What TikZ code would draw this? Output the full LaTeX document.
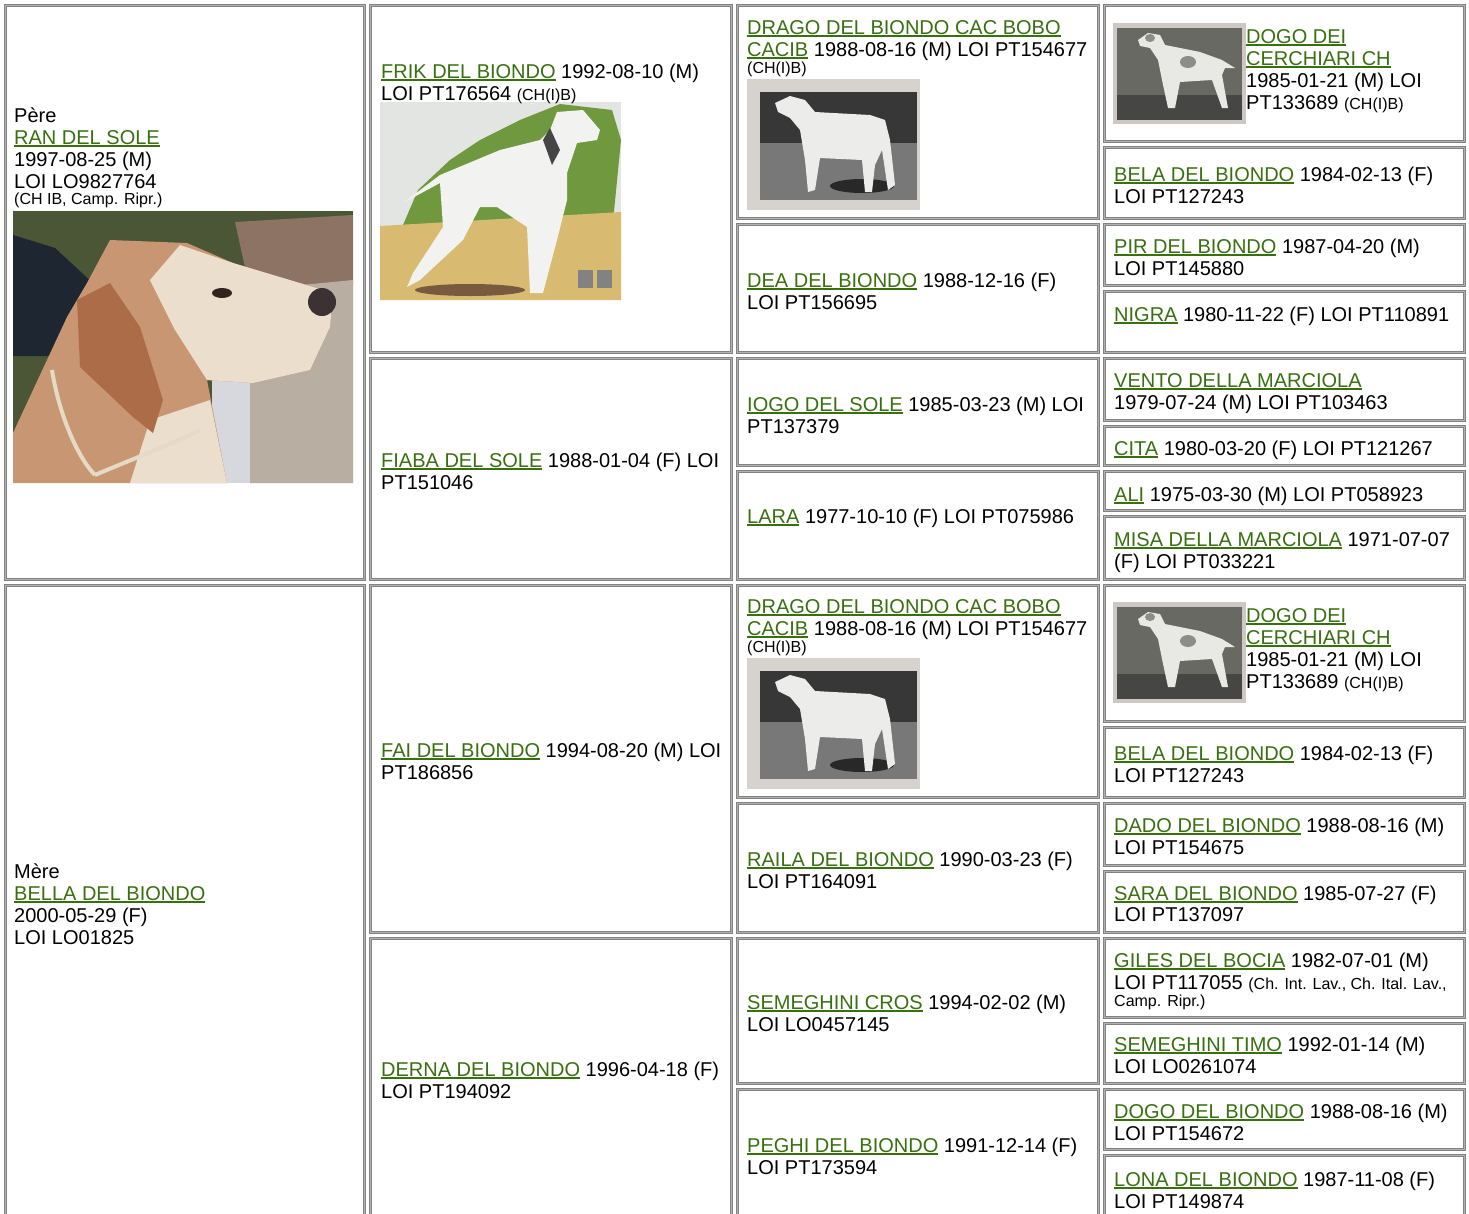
\documentclass[tikz,border=0pt]{standalone}
\usepackage{fontspec}
\setmainfont{Liberation Sans}
\definecolor{linkgreen}{RGB}{56,112,16}
\definecolor{bordergray}{RGB}{130,130,130}
\definecolor{borderlight}{RGB}{178,178,178}
\newsavebox\lnkbox
\newcommand\lnk[1]{\sbox\lnkbox{#1}\rlap{\color{linkgreen}\rule[-2.6pt]{\wd\lnkbox}{1.6pt}}\textcolor{linkgreen}{#1}}
\newcommand\sm{\fontsize{16}{18}\selectfont}
\tikzset{
  txt/.style={inner sep=0pt, anchor=base west, font=\fontsize{20}{22}\selectfont, text=black},
  cellbox/.style={draw=bordergray, line width=1pt, double=borderlight, double distance=1pt}
}
\newcommand\txtline[4]{\node[txt] (#1) at (#2,#3) {#4};}
\newcommand\cellrect[4]{\draw[cellbox] ({#1+1.5},{#2+1.5}) rectangle ({#3-1.5},{#4-1.5});}
% black and white show photo (drago)
\newcommand\photoBW{%
  \begin{scope}
    \clip (747,79) rectangle (920,210);
    \fill[fill={rgb,255:red,214;green,210;blue,205}] (747,79) rectangle (920,210);
    \fill[fill={rgb,255:red,55;green,55;blue,55}] (760,92) rectangle (917,143);
    \fill[fill={rgb,255:red,120;green,120;blue,120}] (760,143) rectangle (917,200);
    \fill[fill={rgb,255:red,40;green,40;blue,40}] (862,186) ellipse [x radius=32, y radius=7];
    \fill[fill={rgb,255:red,236;green,236;blue,234}] (775,103) -- (790,96) -- (805,100) -- (815,112) -- (870,115) -- (885,120) -- (890,140) -- (895,185) -- (888,190) -- (882,150) -- (875,165) -- (872,192) -- (865,192) -- (862,160) -- (820,158) -- (815,190) -- (808,192) -- (805,160) -- (800,130) -- (790,118) -- (778,112) -- cycle;
  \end{scope}}
% black and white field photo (dogo)
\newcommand\photoField{%
  \begin{scope}
    \clip (1113,23) rectangle (1246,124);
    \fill[fill={rgb,255:red,205;green,200;blue,195}] (1113,23) rectangle (1246,124);
    \fill[fill={rgb,255:red,105;green,105;blue,100}] (1117,28) rectangle (1242,120);
    \fill[fill={rgb,255:red,70;green,70;blue,68}] (1117,95) rectangle (1242,120);
    \fill[fill={rgb,255:red,232;green,232;blue,228}] (1138,40) -- (1148,33) -- (1160,35) -- (1165,45) -- (1200,52) -- (1222,60) -- (1235,68) -- (1225,68) -- (1222,75) -- (1228,108) -- (1222,108) -- (1212,80) -- (1180,82) -- (1175,108) -- (1168,108) -- (1162,80) -- (1158,60) -- (1150,48) -- (1140,46) -- cycle;
    \fill[fill={rgb,255:red,140;green,140;blue,136}] (1188,62) ellipse [x radius=8, y radius=6];
    \fill[fill={rgb,255:red,140;green,140;blue,136}] (1150,38) ellipse [x radius=5, y radius=4];
  \end{scope}}
\begin{document}
\begin{tikzpicture}[x=1pt,y=-1pt]
\useasboundingbox (0,0) rectangle (1469,1213);
\clip (0,0) rectangle (1469,1213);
\fill[white] (0,0) rectangle (1469,1213);

% ---------- cell borders ----------
% column 1
\cellrect{4}{4}{366}{581}
\cellrect{4}{584}{366}{1230}
% column 2
\cellrect{369}{4}{733}{354}
\cellrect{369}{357}{733}{581}
\cellrect{369}{584}{733}{934}
\cellrect{369}{937}{733}{1230}
% column 3
\cellrect{736}{4}{1100}{220}
\cellrect{736}{223}{1100}{354}
\cellrect{736}{357}{1100}{467}
\cellrect{736}{470}{1100}{581}
\cellrect{736}{584}{1100}{799}
\cellrect{736}{802}{1100}{934}
\cellrect{736}{937}{1100}{1085}
\cellrect{736}{1088}{1100}{1230}
% column 4
\cellrect{1103}{4}{1466}{143}
\cellrect{1103}{146}{1466}{220}
\cellrect{1103}{223}{1466}{287}
\cellrect{1103}{290}{1466}{354}
\cellrect{1103}{357}{1466}{422}
\cellrect{1103}{425}{1466}{467}
\cellrect{1103}{470}{1466}{512}
\cellrect{1103}{515}{1466}{581}
\cellrect{1103}{584}{1466}{723}
\cellrect{1103}{726}{1466}{799}
\cellrect{1103}{802}{1466}{867}
\cellrect{1103}{870}{1466}{934}
\cellrect{1103}{937}{1466}{1019}
\cellrect{1103}{1022}{1466}{1085}
\cellrect{1103}{1088}{1466}{1151}
\cellrect{1103}{1154}{1466}{1230}

% ---------- photo: head of RAN DEL SOLE ----------
\begin{scope}
  \clip (13,211) rectangle (353,483);
  \fill[fill={rgb,255:red,74;green,86;blue,54}] (13,211) rectangle (353,483);
  \fill[fill={rgb,255:red,140;green,115;blue,100}] (235,222) -- (353,215) -- (353,285) -- (250,290) -- cycle;
  \fill[fill={rgb,255:red,184;green,174;blue,162}] (250,290) -- (353,280) -- (353,483) -- (250,483) -- cycle;
  \fill[fill={rgb,255:red,215;green,215;blue,222}] (212,380) rectangle (250,483);
  \fill[fill={rgb,255:red,30;green,38;blue,50}] (13,235) -- (55,248) -- (95,285) -- (92,350) -- (50,356) -- (13,356) -- cycle;
  \fill[fill={rgb,255:red,200;green,150;blue,115}] (110,240) -- (187,243) -- (233,263) -- (333,293) -- (330,327) -- (310,370) -- (253,383) -- (207,380) -- (227,483) -- (13,483) -- (13,433) -- (67,317) -- (87,283) -- cycle;
  \fill[fill={rgb,255:red,236;green,222;blue,205}] (180,245) -- (233,263) -- (333,293) -- (330,327) -- (310,370) -- (253,383) -- (207,380) -- (175,330) -- (150,280) -- cycle;
  \fill[fill={rgb,255:red,236;green,222;blue,205}] (150,420) -- (210,400) -- (227,483) -- (130,483) -- cycle;
  \fill[fill={rgb,255:red,172;green,108;blue,72}] (77,300) -- (110,283) -- (140,327) -- (163,400) -- (153,433) -- (133,417) -- (80,367) -- cycle;
  \fill[fill={rgb,255:red,60;green,50;blue,52}] (322,302) circle [radius=14];
  \fill[fill={rgb,255:red,50;green,35;blue,30}] (222,293) ellipse [x radius=10, y radius=5];
  \draw[draw={rgb,255:red,228;green,218;blue,198}, line width=4pt] (52,370) .. controls (60,420) and (80,460) .. (95,475);
  \draw[draw={rgb,255:red,228;green,218;blue,198}, line width=4pt] (95,475) .. controls (130,460) and (170,445) .. (200,430);
\end{scope}

% ---------- photo: painting of FRIK DEL BIONDO ----------
\begin{scope}
  \clip (380,102) rectangle (621,300);
  \fill[fill={rgb,255:red,226;green,229;blue,226}] (380,102) rectangle (621,300);
  \fill[fill={rgb,255:red,112;green,152;blue,62}] (400,232) -- (418,190) -- (450,160) -- (480,140) -- (520,120) -- (560,104) -- (612,110) -- (621,140) -- (612,232) -- cycle;
  \fill[fill={rgb,255:red,216;green,186;blue,112}] (380,226) -- (621,212) -- (621,300) -- (380,300) -- cycle;
  \fill[fill={rgb,255:red,120;green,90;blue,62}] (470,290) ellipse [x radius=55, y radius=6];
  \fill[fill={rgb,255:red,242;green,242;blue,240}] (557,112) -- (583,110) -- (600,130) -- (597,140) -- (577,143) -- (567,173) -- (567,200) -- (557,240) -- (543,293) -- (530,293) -- (527,227) -- (497,207) -- (480,207) -- (463,240) -- (420,280) -- (407,287) -- (413,273) -- (443,227) -- (440,183) -- (403,203) -- (440,175) -- (500,150) -- (540,140) -- (550,130) -- cycle;
  \fill[fill={rgb,255:red,70;green,70;blue,70}] (550,128) -- (560,150) -- (552,165) -- (543,140) -- cycle;
  \fill[fill={rgb,255:red,130;green,130;blue,130}] (578,270) rectangle (593,288);
  \fill[fill={rgb,255:red,130;green,130;blue,130}] (597,270) rectangle (612,288);
\end{scope}

% ---------- photos: DRAGO and DOGO (top and bottom) ----------
\photoBW
\photoField
\begin{scope}[shift={(0,579)}]
  \photoBW
  \photoField
\end{scope}

% ---------- column 1 ----------
\txtline{pereA}{14}{122}{Père}
\txtline{pereB}{14}{144}{\lnk{RAN DEL SOLE}}
\txtline{pereC}{14}{166}{1997-08-25 (M)}
\txtline{pereD}{14}{188}{LOI LO9827764}
\txtline{pereE}{14}{204}{\sm (CH IB, Camp. Ripr.)}
\txtline{mereA}{14}{878}{Mère}
\txtline{mereB}{14}{900}{\lnk{BELLA DEL BIONDO}}
\txtline{mereC}{14}{922}{2000-05-29 (F)}
\txtline{mereD}{14}{944}{LOI LO01825}

% ---------- column 2 ----------
\txtline{frikA}{381}{78}{\lnk{FRIK DEL BIONDO} 1992-08-10 (M)}
\txtline{frikB}{381}{100}{LOI PT176564 {\sm (CH(I)B)}}
\txtline{fiabaA}{381}{467}{\lnk{FIABA DEL SOLE} 1988-01-04 (F) LOI}
\txtline{fiabaB}{381}{489}{PT151046}
\txtline{faiA}{381}{757}{\lnk{FAI DEL BIONDO} 1994-08-20 (M) LOI}
\txtline{faiB}{381}{779}{PT186856}
\txtline{dernaA}{381}{1076}{\lnk{DERNA DEL BIONDO} 1996-04-18 (F)}
\txtline{dernaB}{381}{1098}{LOI PT194092}

% ---------- column 3 ----------
\txtline{dragoA}{747}{34}{\lnk{DRAGO DEL BIONDO CAC BOBO}}
\txtline{dragoB}{747}{56}{\lnk{CACIB} 1988-08-16 (M) LOI PT154677}
\txtline{dragoC}{747}{73}{\sm (CH(I)B)}
\txtline{deaA}{747}{287}{\lnk{DEA DEL BIONDO} 1988-12-16 (F)}
\txtline{deaB}{747}{309}{LOI PT156695}
\txtline{iogoA}{747}{411}{\lnk{IOGO DEL SOLE} 1985-03-23 (M) LOI}
\txtline{iogoB}{747}{433}{PT137379}
\txtline{lara}{747}{523}{\lnk{LARA} 1977-10-10 (F) LOI PT075986}
\txtline{dragoD}{747}{613}{\lnk{DRAGO DEL BIONDO CAC BOBO}}
\txtline{dragoE}{747}{635}{\lnk{CACIB} 1988-08-16 (M) LOI PT154677}
\txtline{dragoF}{747}{652}{\sm (CH(I)B)}
\txtline{railaA}{747}{866}{\lnk{RAILA DEL BIONDO} 1990-03-23 (F)}
\txtline{railaB}{747}{888}{LOI PT164091}
\txtline{crosA}{747}{1009}{\lnk{SEMEGHINI CROS} 1994-02-02 (M)}
\txtline{crosB}{747}{1031}{LOI LO0457145}
\txtline{peghiA}{747}{1152}{\lnk{PEGHI DEL BIONDO} 1991-12-14 (F)}
\txtline{peghiB}{747}{1174}{LOI PT173594}

% ---------- column 4 ----------
\txtline{dogoA}{1246}{43}{\lnk{DOGO DEI}}
\txtline{dogoB}{1246}{65}{\lnk{CERCHIARI CH}}
\txtline{dogoC}{1246}{87}{1985-01-21 (M) LOI}
\txtline{dogoD}{1246}{109}{PT133689 {\sm (CH(I)B)}}
\txtline{belaA}{1114}{181}{\lnk{BELA DEL BIONDO} 1984-02-13 (F)}
\txtline{belaB}{1114}{203}{LOI PT127243}
\txtline{pirA}{1114}{253}{\lnk{PIR DEL BIONDO} 1987-04-20 (M)}
\txtline{pirB}{1114}{275}{LOI PT145880}
\txtline{nigra}{1114}{321}{\lnk{NIGRA} 1980-11-22 (F) LOI PT110891}
\txtline{ventoA}{1114}{387}{\lnk{VENTO DELLA MARCIOLA}}
\txtline{ventoB}{1114}{409}{1979-07-24 (M) LOI PT103463}
\txtline{cita}{1114}{455}{\lnk{CITA} 1980-03-20 (F) LOI PT121267}
\txtline{ali}{1114}{501}{\lnk{ALI} 1975-03-30 (M) LOI PT058923}
\txtline{misaA}{1114}{546}{\lnk{MISA DELLA MARCIOLA} 1971-07-07}
\txtline{misaB}{1114}{568}{(F) LOI PT033221}
\txtline{dogoE}{1246}{622}{\lnk{DOGO DEI}}
\txtline{dogoF}{1246}{644}{\lnk{CERCHIARI CH}}
\txtline{dogoG}{1246}{666}{1985-01-21 (M) LOI}
\txtline{dogoH}{1246}{688}{PT133689 {\sm (CH(I)B)}}
\txtline{belaC}{1114}{760}{\lnk{BELA DEL BIONDO} 1984-02-13 (F)}
\txtline{belaD}{1114}{782}{LOI PT127243}
\txtline{dadoA}{1114}{832}{\lnk{DADO DEL BIONDO} 1988-08-16 (M)}
\txtline{dadoB}{1114}{854}{LOI PT154675}
\txtline{saraA}{1114}{900}{\lnk{SARA DEL BIONDO} 1985-07-27 (F)}
\txtline{saraB}{1114}{921}{LOI PT137097}
\txtline{gilesA}{1114}{967}{\lnk{GILES DEL BOCIA} 1982-07-01 (M)}
\txtline{gilesB}{1114}{989}{LOI PT117055 {\sm (Ch. Int. Lav., Ch. Ital. Lav.,}}
\txtline{gilesC}{1114}{1006}{\sm Camp. Ripr.)}
\txtline{timoA}{1114}{1051}{\lnk{SEMEGHINI TIMO} 1992-01-14 (M)}
\txtline{timoB}{1114}{1073}{LOI LO0261074}
\txtline{dogobA}{1114}{1118}{\lnk{DOGO DEL BIONDO} 1988-08-16 (M)}
\txtline{dogobB}{1114}{1140}{LOI PT154672}
\txtline{lonaA}{1114}{1186}{\lnk{LONA DEL BIONDO} 1987-11-08 (F)}
\txtline{lonaB}{1114}{1208}{LOI PT149874}
\end{tikzpicture}
\end{document}
